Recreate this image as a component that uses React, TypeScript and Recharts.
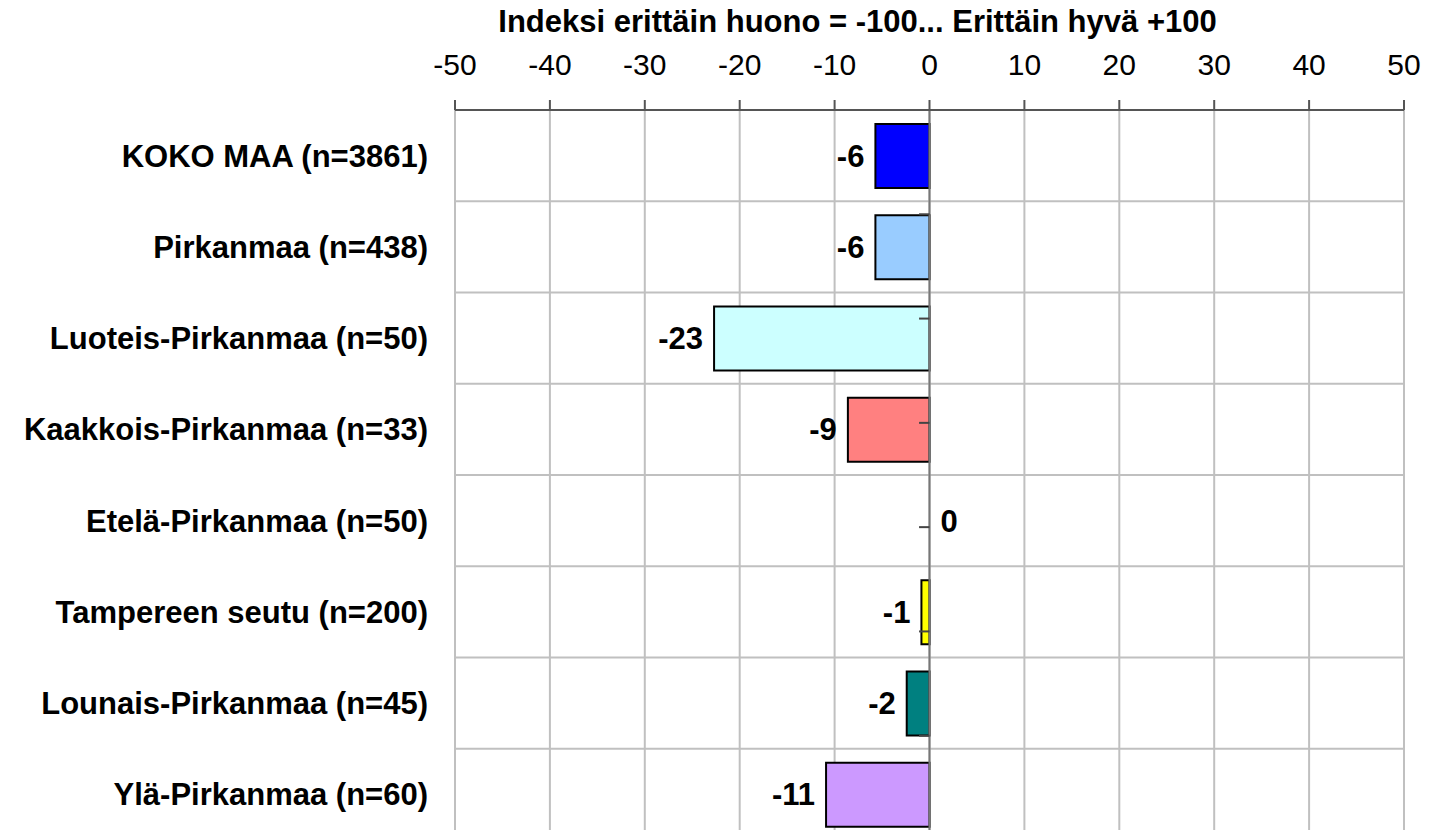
import { BarChart, Bar, XAxis, YAxis, CartesianGrid, Cell, LabelList, ReferenceLine } from 'recharts';

const categories = [
  'KOKO MAA (n=3861)',
  'Pirkanmaa (n=438)',
  'Luoteis-Pirkanmaa (n=50)',
  'Kaakkois-Pirkanmaa (n=33)',
  'Etelä-Pirkanmaa (n=50)',
  'Tampereen seutu (n=200)',
  'Lounais-Pirkanmaa (n=45)',
  'Ylä-Pirkanmaa (n=60)',
];
const values = [-5.7, -5.7, -22.7, -8.6, 0, -0.85, -2.4, -10.9];
const xTicks = [-50, -40, -30, -20, -10, 0, 10, 20, 30, 40, 50];
const title = 'Indeksi erittäin huono = -100... Erittäin hyvä +100';

const COLORS = ['#0000ff', '#99ccff', '#ccffff', '#ff8080', 'transparent', '#ffff00', '#008080', '#cc99ff'];
const FONT = '"Liberation Sans", Arial, Helvetica, sans-serif';

const data = categories.map((name, i) => ({ name, value: values[i] }));
const boundaries = categories.map((_, i) => i + 1).slice(0, -1);

function ValueLabel(props: any) {
  const { x, y, width, height, value } = props;
  const left = Math.min(x, x + width);
  const right = Math.max(x, x + width);
  const neg = value < 0;
  return (
    <text
      x={neg ? left - 11 : right + 10}
      y={y + height / 2}
      textAnchor={neg ? 'end' : 'start'}
      dominantBaseline="central"
      fontFamily={FONT}
      fontWeight="bold"
      fontSize={31}
      fill="#000"
    >
      {Math.round(value)}
    </text>
  );
}

export default function App() {
  return (
    <div style={{ position: 'absolute', left: 0, top: 0, width: 1429, height: 830, overflow: 'hidden', background: '#fff' }}>
      <div
        style={{
          position: 'absolute',
          left: 286,
          width: 1143,
          top: 5,
          textAlign: 'center',
          fontFamily: FONT,
          fontWeight: 'bold',
          fontSize: 31,
          lineHeight: '34px',
        }}
      >
        {title}
      </div>
      <BarChart
        width={1429}
        height={840}
        data={data}
        layout="vertical"
        margin={{ top: 0, right: 25, bottom: 0, left: 0 }}
      >
        <CartesianGrid
          stroke="#c0c0c0"
          strokeWidth={2}
          horizontalCoordinatesGenerator={({ offset }: any) =>
            categories.map((_, i) => offset.top + (i * offset.height) / categories.length)
          }
        />
        <XAxis
          type="number"
          orientation="top"
          domain={[-50, 50]}
          ticks={xTicks}
          interval={0}
          height={110}
          tickSize={10}
          tickMargin={25}
          axisLine={{ stroke: '#555', strokeWidth: 2 }}
          tickLine={{ stroke: '#555', strokeWidth: 2 }}
          tick={{ fill: '#000', fontSize: 30, fontFamily: FONT }}
        />
        <YAxis
          type="category"
          dataKey="name"
          width={455}
          tickSize={0}
          tickMargin={27}
          axisLine={false}
          tickLine={false}
          interval={0}
          tick={{ fill: '#000', fontSize: 31, fontWeight: 'bold', fontFamily: FONT }}
        />
        <YAxis yAxisId="band" type="number" domain={[0, categories.length]} reversed hide />
        <ReferenceLine x={0} stroke="#777" strokeWidth={2} />
        {boundaries.map((b) => (
          <ReferenceLine
            key={b}
            yAxisId="band"
            segment={[
              { x: -1.1, y: b },
              { x: 0, y: b },
            ]}
            stroke="#444"
            strokeWidth={2}
          />
        ))}
        <Bar
          dataKey="value"
          barSize={64}
          stroke="#000"
          strokeWidth={2}
          minPointSize={(v: number) => (v === 0 ? 1 : 0)}
          isAnimationActive={false}
        >
          {data.map((d, i) => (
            <Cell key={i} fill={COLORS[i]} stroke={d.value === 0 ? 'none' : '#000'} />
          ))}
          <LabelList dataKey="value" content={<ValueLabel />} />
        </Bar>
      </BarChart>
    </div>
  );
}
